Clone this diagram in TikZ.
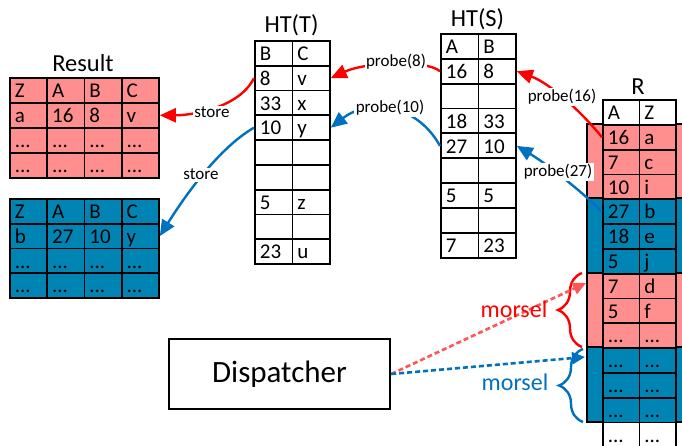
\documentclass[tikz,border=0pt]{standalone}
\usepackage{fontspec}
\setmainfont{Carlito}
\usetikzlibrary{arrows.meta,decorations.pathreplacing}
\definecolor{redfill}{RGB}{255,143,143}
\definecolor{bluefill}{RGB}{0,132,180}
\definecolor{redline}{RGB}{255,0,0}
\definecolor{blueline}{RGB}{0,112,192}
\definecolor{dashred}{RGB}{255,85,85}
\newcommand{\ellip}{...}
\begin{document}
\begin{tikzpicture}[x=1pt,y=-1pt,
  cellbase/.style={draw, line width=1.8pt, anchor=north west, inner xsep=5pt, inner ysep=0pt,
    minimum height=24.8pt, text height=16pt, text depth=1.5pt, align=left,
    font=\fontsize{21}{23}\selectfont},
  cellA/.style={cellbase, text width=27.25pt},
  cellB/.style={cellbase, text width=27.5pt},
  cellC/.style={cellbase, text width=26.5pt},
  titletext/.style={anchor=base, font=\fontsize{24.5}{28}\selectfont, inner sep=0pt},
  edgelabel/.style={anchor=base, fill=white, inner sep=1.5pt, font=\fontsize{17}{19}\selectfont},
  solidarrow/.style={line width=2.4pt, -{Triangle[length=16pt,width=14pt]}},
  dasharrow/.style={line width=2.6pt, dash pattern=on 5pt off 3pt, -{Triangle[length=13pt,width=12pt]}},
  bracestyle/.style={decorate, decoration={brace, amplitude=24pt}, line width=2.4pt},
  morseltext/.style={anchor=base, font=\fontsize{24}{28}\selectfont, inner sep=0pt},
]
\clip (0,0) rectangle (682,446);
\fill[white] (0,0) rectangle (682,446);

% Result tables
\foreach \z/\a/\b/\c [count=\i from 0] in {Z/A/B/C, a/16/8/v, \ellip/\ellip/\ellip/\ellip, \ellip/\ellip/\ellip/\ellip} {
  \node[cellA, fill=redfill] (rr\i-0) at (9, 77+\i*25) {\z};
  \node[cellA, fill=redfill] (rr\i-1) at (46.25, 77+\i*25) {\a};
  \node[cellA, fill=redfill] (rr\i-2) at (83.5, 77+\i*25) {\b};
  \node[cellA, fill=redfill] (rr\i-3) at (120.75, 77+\i*25) {\c};
}
\foreach \z/\a/\b/\c [count=\i from 0] in {Z/A/B/C, b/27/10/y, \ellip/\ellip/\ellip/\ellip, \ellip/\ellip/\ellip/\ellip} {
  \node[cellA, fill=bluefill] (rb\i-0) at (9, 198+\i*24.8) {\z};
  \node[cellA, fill=bluefill] (rb\i-1) at (46.25, 198+\i*24.8) {\a};
  \node[cellA, fill=bluefill] (rb\i-2) at (83.5, 198+\i*24.8) {\b};
  \node[cellA, fill=bluefill] (rb\i-3) at (120.75, 198+\i*24.8) {\c};
}
\node[titletext] (restitle) at (83,72) {Result};

% HT(T)
\foreach \a/\b [count=\i from 0] in {B/C, 8/v, 33/x, 10/y, {}/{}, {}/{}, 5/z, {}/{}, 23/u} {
  \node[cellB, fill=white] (t\i-0) at (254, 40+\i*24.8) {\a};
  \node[cellB, fill=white] (t\i-1) at (291.5, 40+\i*24.8) {\b};
}
\node[titletext] (httitle) at (291.5,33) {HT(T)};

% HT(S)
\foreach \a/\b [count=\i from 0] in {A/B, 16/8, {}/{}, 18/33, 27/10, {}/{}, 5/5, {}/{}, 7/23} {
  \node[cellB, fill=white] (s\i-0) at (440, 33+\i*24.9) {\a};
  \node[cellB, fill=white] (s\i-1) at (477.5, 33+\i*24.9) {\b};
}
\node[titletext] (hstitle) at (477.5,27) {HT(S)};

% R
\foreach \y/\col in {124/redfill, 198.4/bluefill, 272.8/redfill, 347.2/bluefill} {
  \draw[line width=1.8pt, fill=\col] (587,\y) rectangle (700,\y+74.4);
}
\node[cellC, fill=white] (rh-0) at (602, 99) {A};
\node[cellC, fill=white] (rh-1) at (638.5, 99) {Z};
\foreach \a/\b/\col [count=\i from 1] in {16/a/redfill, 7/c/redfill, 10/i/redfill,
   27/b/bluefill, 18/e/bluefill, 5/j/bluefill,
   7/d/redfill, 5/f/redfill, \ellip/\ellip/redfill,
   \ellip/\ellip/bluefill, \ellip/\ellip/bluefill, \ellip/\ellip/bluefill,
   \ellip/\ellip/white} {
  \node[cellC, fill=\col] (r\i-0) at (602, 99.2+\i*24.8) {\a};
  \node[cellC, fill=\col] (r\i-1) at (638.5, 99.2+\i*24.8) {\b};
}
\node[titletext] (rtitle) at (638,95) {R};

% probe / store connectors
\draw[solidarrow, redline] (s1-0.west) .. controls +(-15,-12) and +(35,-16) .. (t1-1.east);
\draw[solidarrow, blueline] (s4-0.west) .. controls +(-25,-45) and +(35,-27.6) .. (t3-1.east);
\draw[solidarrow, redline] (r1-0.west) .. controls +(-20,-25) and +(33,12) .. (s1-1.east);
\draw[solidarrow, blueline] (r4-0.west) .. controls +(-20,-20) and +(30,18) .. (s4-1.east);
\draw[solidarrow, redline] (t1-0.west) .. controls +(-15,30) and +(32,0) .. (rr1-3.east);
\draw[solidarrow, blueline] (t3-0.west) .. controls +(-35,20) and +(25,-40) .. (rb1-3.east);

\node[edgelabel] (lp8) at (396,67) {probe(8)};
\node[edgelabel] (lp10) at (390,113) {probe(10)};
\node[edgelabel] (lp16) at (562,102) {probe(16)};
\node[edgelabel] (lp27) at (558,177) {probe(27)};
\node[edgelabel] (lsr) at (212,118) {store};
\node[edgelabel] (lsb) at (201,180) {store};

% Dispatcher and morsels
\node[draw, line width=2.4pt, minimum width=221pt, minimum height=70pt,
      font=\fontsize{31}{36}\selectfont] (disp) at (279.5,374) {Dispatcher};

\coordinate (redtop) at (582,273);
\coordinate (redbot) at (582,347);
\coordinate (bluetop) at (583,349);
\coordinate (bluebot) at (583,422);
\draw[bracestyle, redline] (redbot) -- (redtop);
\draw[bracestyle, blueline] (bluebot) -- (bluetop);

\coordinate (redtip) at (586,283);
\coordinate (bluetip) at (585,357);
\draw[dasharrow, dashred] (disp.east) -- (redtip);
\draw[dasharrow, blueline] (disp.east) -- (bluetip);

\node[morseltext, text=redline] (mr) at (514,317) {morsel};
\node[morseltext, text=blueline] (mb) at (515,390) {morsel};
\end{tikzpicture}
\end{document}
